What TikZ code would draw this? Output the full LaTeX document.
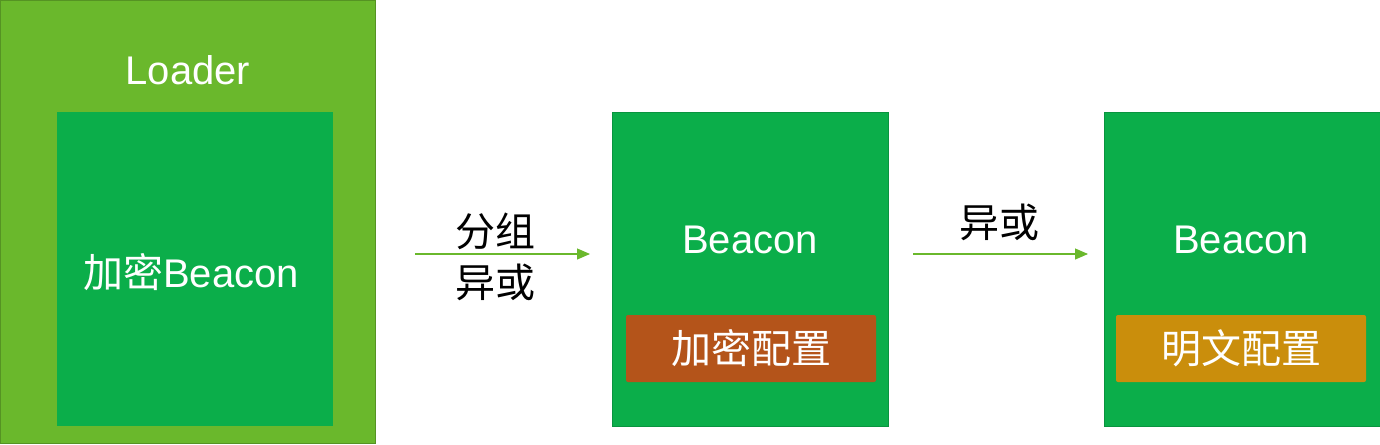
\documentclass[tikz,border=0pt]{standalone}
\usepackage{fontspec}
\setmainfont{Liberation Sans}
\newfontfamily\cjk{Noto Sans CJK SC}
\usetikzlibrary{arrows.meta}
\definecolor{loadergreen}{RGB}{106,184,44}
\definecolor{beacongreen}{RGB}{11,174,74}
\definecolor{encorange}{RGB}{180,84,26}
\definecolor{plaingold}{RGB}{202,142,12}
\newcommand{\bigfont}{\fontsize{40}{48}\selectfont}
\begin{document}
\begin{tikzpicture}[x=1pt, y=-1pt,
    greenbox/.style={draw=beacongreen!85!black, fill=beacongreen, line width=0.6pt,
      minimum width=276pt, minimum height=314pt, inner sep=0pt},
    cfgbox/.style={fill=#1, rounded corners=2pt, minimum width=250pt,
      minimum height=67pt, inner sep=0pt, text=white, font=\bigfont\cjk},
    whitetext/.style={text=white, font=\bigfont, inner sep=0pt},
    blacktext/.style={text=black, font=\bigfont\cjk, inner sep=0pt},
    flow/.style={draw=loadergreen, line width=1.1pt, -{Triangle[length=13pt, width=11pt]}}]
\useasboundingbox[fill=white] (0,0) rectangle (1380,444);

% loader with the encrypted beacon inside
\node[draw=loadergreen!80!black, fill=loadergreen, line width=0.8pt, minimum width=375pt,
  minimum height=443pt, inner sep=0pt] (loader) at (187.5,221.5) {};
\node[whitetext] (loadertext) at (188,70) {Loader};
\node[greenbox, draw=none] (encbeacon) at (195,269) {};
\node[whitetext] (encbeacontext) at (191,272) {{\cjk 加密}Beacon};

% beacon, config still encrypted
\node[greenbox] (beacon1) at (750,269) {};
\node[whitetext] (beacon1text) at (750,240) {Beacon};
\node[cfgbox=encorange] (enccfg) at (751,348.5) {加密配置};

% beacon, plain config
\node[greenbox] (beacon2) at (1242,269) {};
\node[whitetext] (beacon2text) at (1241,240) {Beacon};
\node[cfgbox=plaingold] (plaincfg) at (1241,348.5) {明文配置};

% arrows
\coordinate (a1s) at (415,254);
\coordinate (a1e) at (590,254);
\coordinate (a2s) at (913,254);
\coordinate (a2e) at (1088,254);
\draw[flow] (a1s) -- (a1e);
\draw[flow] (a2s) -- (a2e);
\node[blacktext] (grp) at (495,231) {分组};
\node[blacktext] (xor1) at (495,282) {异或};
\node[blacktext] (xor2) at (999,222) {异或};
\end{tikzpicture}
\end{document}
